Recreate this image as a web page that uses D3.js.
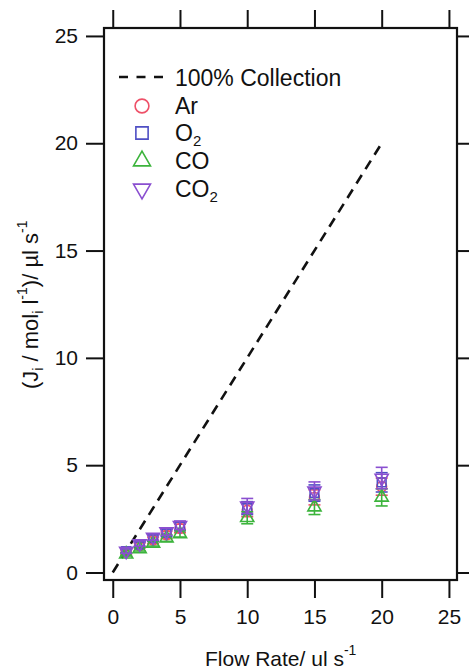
<!DOCTYPE html>
<html><head><meta charset="utf-8">
<script src="https://cdn.jsdelivr.net/npm/d3@7"></script>
<style>html,body{margin:0;padding:0;background:#fff;}svg{display:block;font-family:"Liberation Sans",Arial,sans-serif;}</style>
</head><body>
<script>
const flow = [1, 2, 3, 4, 5, 10, 15, 20];
const arVals  = [0.95, 1.25, 1.50, 1.75, 2.05, 2.90, 3.50, 4.00];
const arErr   = [0.10, 0.12, 0.15, 0.17, 0.20, 0.30, 0.35, 0.40];
const o2Vals  = [1.00, 1.30, 1.60, 1.85, 2.15, 3.00, 3.70, 4.20];
const o2Err   = [0.10, 0.12, 0.15, 0.17, 0.20, 0.30, 0.38, 0.45];
const coVals  = [0.85, 1.10, 1.35, 1.60, 1.80, 2.55, 3.05, 3.50];
const coErr   = [0.08, 0.10, 0.12, 0.15, 0.15, 0.28, 0.35, 0.40];
const co2Vals = [1.00, 1.35, 1.65, 1.90, 2.20, 3.10, 3.80, 4.40];
const co2Err  = [0.10, 0.12, 0.15, 0.17, 0.20, 0.35, 0.42, 0.50];
const collectionX = [0, 20];
const collectionY = [0, 20];
const xTicks = [0, 5, 10, 15, 20, 25];
const yTicks = [0, 5, 10, 15, 20, 25];

const W = 469, H = 669;
const svg = d3.select("body").append("svg").attr("width", W).attr("height", H);
const x = d3.scaleLinear().domain([-0.65, 25.6]).range([104, 457]);
const y = d3.scaleLinear().domain([-0.35, 25.37]).range([580, 28]);

const series = [
  {name: "Ar", vals: arVals, err: arErr, color: "#ee5068", sym: d3.symbolCircle, rot: 0},
  {name: "O2", vals: o2Vals, err: o2Err, color: "#4f4fc4", sym: d3.symbolSquare, rot: 0},
  {name: "CO", vals: coVals, err: coErr, color: "#3cb43c", sym: d3.symbolTriangle, rot: 0},
  {name: "CO2", vals: co2Vals, err: co2Err, color: "#8a4fd0", sym: d3.symbolTriangle, rot: 180}
];

// axes
const tickLen = 18;
svg.append("g").attr("transform", `translate(0,580)`)
  .call(d3.axisBottom(x).tickValues(xTicks).tickSize(tickLen).tickPadding(11).tickFormat(d3.format("d")))
  .call(g => { g.select(".domain").remove(); g.selectAll("line").attr("stroke","#111").attr("stroke-width",2);
    g.selectAll("text").attr("font-size",21).attr("fill","#111").attr("font-family","Liberation Sans, Arial, sans-serif"); });
svg.append("g").attr("transform", `translate(0,28)`)
  .call(d3.axisTop(x).tickValues(xTicks).tickSize(tickLen).tickFormat(""))
  .call(g => { g.select(".domain").remove(); g.selectAll("line").attr("stroke","#111").attr("stroke-width",2); });
svg.append("g").attr("transform", `translate(104,0)`)
  .call(d3.axisLeft(y).tickValues(yTicks).tickSize(tickLen).tickPadding(8).tickFormat(d3.format("d")))
  .call(g => { g.select(".domain").remove(); g.selectAll("line").attr("stroke","#111").attr("stroke-width",2);
    g.selectAll("text").attr("font-size",21).attr("fill","#111").attr("font-family","Liberation Sans, Arial, sans-serif"); });
svg.append("g").attr("transform", `translate(457,0)`)
  .call(d3.axisRight(y).tickValues(yTicks).tickSize(tickLen).tickFormat(""))
  .call(g => { g.select(".domain").remove(); g.selectAll("line").attr("stroke","#111").attr("stroke-width",2); });

svg.append("rect").attr("x", 104).attr("y", 28).attr("width", 353).attr("height", 552)
  .attr("fill", "none").attr("stroke", "#111").attr("stroke-width", 2.2);

// 100% collection line
svg.append("line")
  .attr("x1", x(collectionX[0])).attr("y1", y(collectionY[0]))
  .attr("x2", x(collectionX[1])).attr("y2", y(collectionY[1]))
  .attr("stroke", "#111").attr("stroke-width", 2.6).attr("stroke-dasharray", "10,7");

// data
const symSize = 75;
series.forEach(s => {
  const g = svg.append("g");
  flow.forEach((f, i) => {
    const cx = x(f), v = s.vals[i], e = s.err[i];
    g.append("line").attr("x1", cx).attr("x2", cx).attr("y1", y(v - e)).attr("y2", y(v + e))
      .attr("stroke", s.color).attr("stroke-width", 1.6);
    [v - e, v + e].forEach(t => g.append("line").attr("x1", cx - 6).attr("x2", cx + 6)
      .attr("y1", y(t)).attr("y2", y(t)).attr("stroke", s.color).attr("stroke-width", 1.6));
    g.append("path").attr("d", d3.symbol().type(s.sym).size(symSize)())
      .attr("transform", `translate(${cx},${y(v)}) rotate(${s.rot})`)
      .attr("fill", "none").attr("stroke", s.color).attr("stroke-width", 1.6);
  });
});

// legend
const leg = svg.append("g").attr("font-size", 23).attr("fill", "#111");
leg.append("line").attr("x1", 119).attr("x2", 164).attr("y1", 77).attr("y2", 77)
  .attr("stroke", "#111").attr("stroke-width", 2.6).attr("stroke-dasharray", "9,8.5");
leg.append("text").attr("x", 175).attr("y", 86).text("100% Collection");
const rows = [106, 133, 161, 189];
series.forEach((s, i) => {
  leg.append("path").attr("d", d3.symbol().type(s.sym).size(s.sym === d3.symbolTriangle ? 125 : 150)())
    .attr("transform", `translate(142,${rows[i]}) rotate(${s.rot})`)
    .attr("fill", "none").attr("stroke", s.color).attr("stroke-width", 1.6);
  const t = leg.append("text").attr("x", 175).attr("y", rows[i] + 8);
  if (s.name.endsWith("2")) {
    t.append("tspan").text(s.name.slice(0, -1));
    t.append("tspan").attr("font-size", 15).attr("dy", 5).text("2");
  } else t.text(s.name);
});

// x title
const xt = svg.append("text").attr("x", 205).attr("y", 666).attr("font-size", 21).attr("fill", "#111");
xt.append("tspan").text("Flow Rate/ ul s");
xt.append("tspan").attr("font-size", 14).attr("dy", -11).text("-1");

// y title
const yt = svg.append("text").attr("transform", "translate(38,389) rotate(-90)")
  .attr("font-size", 22).attr("fill", "#111");
yt.append("tspan").text("(J");
yt.append("tspan").attr("font-size", 14).attr("dy", 5).text("i");
yt.append("tspan").attr("dy", -5).text(" / mol");
yt.append("tspan").attr("font-size", 14).attr("dy", 5).text("i");
yt.append("tspan").attr("dy", -5).text(" l");
yt.append("tspan").attr("font-size", 14).attr("dy", -11).text("-1");
yt.append("tspan").attr("dy", 11).text(")/ µl s");
yt.append("tspan").attr("font-size", 14).attr("dy", -11).text("-1");
</script>
</body></html>
